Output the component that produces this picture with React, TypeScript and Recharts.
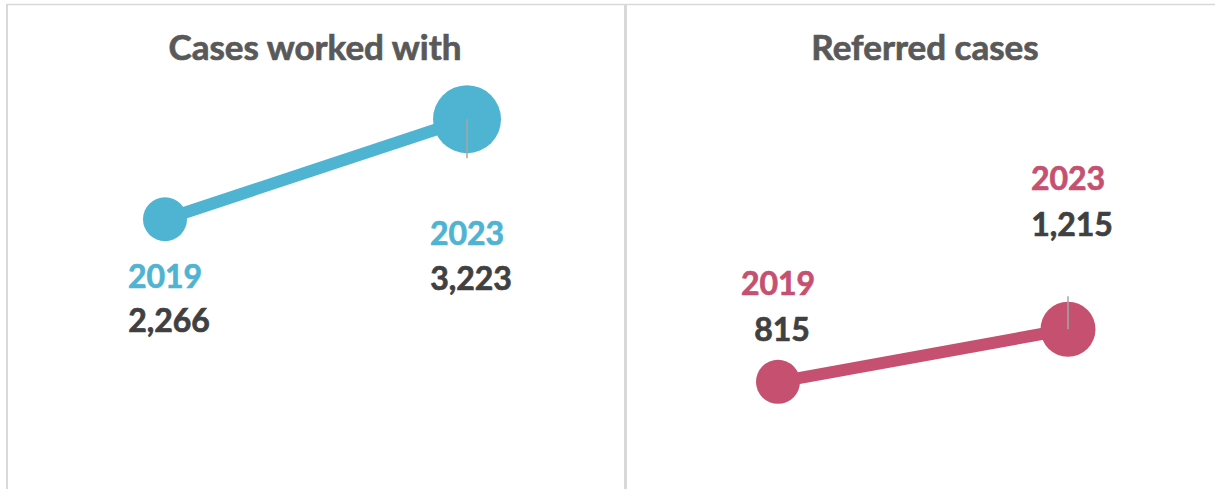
import React from 'react';
import { LineChart, Line, XAxis, YAxis } from 'recharts';

// ---- data ----
const YEARS = ['2019', '2023'];
const CASES_WORKED_WITH = [2266, 3223];
const REFERRED_CASES = [815, 1215];
const TITLES = ['Cases worked with', 'Referred cases'];

// ---- styles ----
const FONT = 'Lato, "Open Sans", sans-serif';
const VALUE_COLOR = '#404040';
const TITLE_COLOR = '#595959';
const BORDER = '#d9d9d9';
const THICKEN = 0.7;

const LEFT_STYLE = {
  color: '#4FB3D2',
  radii: [22, 34],
  yearDy: [69, 126],
  valueDy: [113, 171],
  leader: [0, 39],
};
const RIGHT_STYLE = {
  color: '#C55070',
  radii: [22, 27.5],
  yearDy: [-87, -139],
  valueDy: [-41, -93],
  leader: [0, -33],
};

type Style = typeof LEFT_STYLE;

const buildRows = (values: number[]) => YEARS.map((y, i) => ({ year: y, value: values[i] }));

const makeDot = (style: Style) => (props: any) => {
  const { cx, cy, index, payload } = props;
  if (cx == null || cy == null) return <g key={`d-${index}`} />;
  const r = style.radii[index];
  const lead = style.leader[index];
  return (
    <g key={`d-${index}`}>
      <circle cx={cx} cy={cy} r={r} fill={style.color} stroke="none" />
      {lead !== 0 && (
        <line x1={cx} y1={cy} x2={cx} y2={cy + lead} stroke="#a6a6a6" strokeWidth={1.5} />
      )}
      <text
        x={cx}
        y={cy + style.yearDy[index]}
        textAnchor="middle"
        fill={style.color}
        stroke={style.color}
        strokeWidth={THICKEN}
        fontFamily={FONT}
        fontWeight={700}
        fontSize={32}
      >
        {payload.year}
      </text>
      <text
        x={cx + 4}
        y={cy + style.valueDy[index]}
        textAnchor="middle"
        fill={VALUE_COLOR}
        stroke={VALUE_COLOR}
        strokeWidth={THICKEN}
        fontFamily={FONT}
        fontWeight={700}
        fontSize={32}
      >
        {Number(payload.value).toLocaleString('en-US')}
      </text>
    </g>
  );
};

export default function App() {
  const leftRows = buildRows(CASES_WORKED_WITH);
  const rightRows = buildRows(REFERRED_CASES);
  return (
    <div style={{ position: 'absolute', left: 0, top: 0, width: 1215, height: 489, background: '#fff', overflow: 'hidden' }}>
      <div style={{ position: 'absolute', left: 0, top: 0 }}>
        <LineChart width={620} height={489} data={leftRows} margin={{ top: 38, right: 0, bottom: 33, left: 0 }}>
          <XAxis dataKey="year" hide padding={{ left: 165, right: 153 }} />
          <YAxis hide domain={[0, 4000]} />
          <Line
            dataKey="value"
            stroke={LEFT_STYLE.color}
            strokeWidth={12}
            dot={makeDot(LEFT_STYLE)}
            activeDot={false}
            isAnimationActive={false}
          />
        </LineChart>
      </div>
      <div style={{ position: 'absolute', left: 620, top: 0 }}>
        <LineChart width={595} height={489} data={rightRows} margin={{ top: 226, right: 0, bottom: 0, left: 0 }}>
          <XAxis dataKey="year" hide padding={{ left: 158, right: 147 }} />
          <YAxis hide domain={[0, 2000]} />
          <Line
            dataKey="value"
            stroke={RIGHT_STYLE.color}
            strokeWidth={12}
            dot={makeDot(RIGHT_STYLE)}
            activeDot={false}
            isAnimationActive={false}
          />
        </LineChart>
      </div>
      <svg width={1215} height={489} style={{ position: 'absolute', left: 0, top: 0, pointerEvents: 'none' }}>
        <line x1={6} y1={4.5} x2={1215} y2={4.5} stroke={BORDER} strokeWidth={1.5} />
        <line x1={7} y1={4} x2={7} y2={489} stroke={BORDER} strokeWidth={2} />
        <line x1={625.5} y1={5} x2={625.5} y2={489} stroke={BORDER} strokeWidth={3} />
        <text x={315} y={60} textAnchor="middle" fill={TITLE_COLOR} stroke={TITLE_COLOR} strokeWidth={THICKEN} fontFamily={FONT} fontWeight={700} fontSize={35}>
          {TITLES[0]}
        </text>
        <text x={925} y={60} textAnchor="middle" fill={TITLE_COLOR} stroke={TITLE_COLOR} strokeWidth={THICKEN} fontFamily={FONT} fontWeight={700} fontSize={35}>
          {TITLES[1]}
        </text>
      </svg>
    </div>
  );
}
